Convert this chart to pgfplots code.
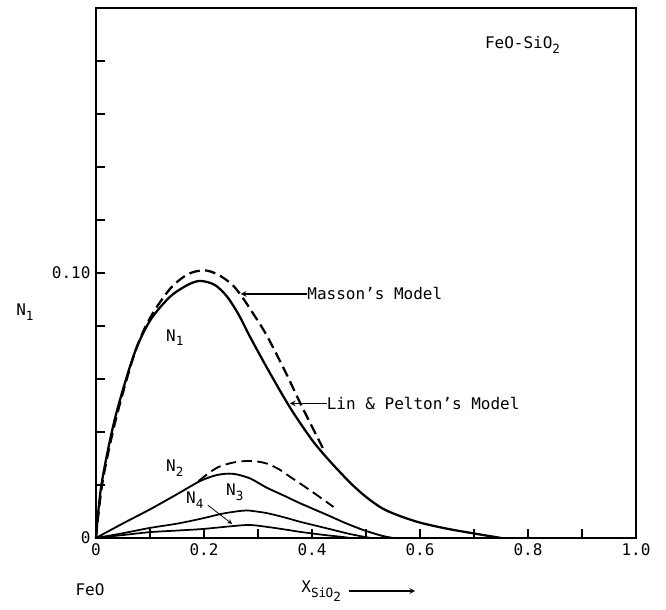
\documentclass[border=0pt]{standalone}
\usepackage{pgfplots}
\pgfplotsset{compat=1.18}
\usepackage{fontspec}
\setmainfont{DejaVu Sans Mono}
\newcommand{\sub}[1]{\raisebox{-0.55ex}{\fontsize{9.5}{11}\selectfont #1}}
\begin{document}
\fontsize{12}{14}\selectfont
\begin{tikzpicture}
\begin{axis}[
  scale only axis, width=405pt, height=397.5pt,
  xmin=0, xmax=1, ymin=0, ymax=0.2,
  axis line style={line width=1.6pt},
  xtick={0,0.1,0.2,0.3,0.4,0.5,0.6,0.7,0.8,0.9,1.0},
  xticklabels={0,,0.2,,0.4,,0.6,,0.8,,1.0},
  ytick={0,0.02,0.04,0.06,0.08,0.10,0.12,0.14,0.16,0.18},
  yticklabels={0,,,,,0.10,,,,},
  tick align=inside, xtick pos=bottom, ytick pos=left,
  major tick length=7pt,
  tick style={line width=1.2pt, black},
  ticklabel style={font=\fontsize{12}{14}\selectfont},
  clip=false,
]
% bounding box of the picture
\path (rel axis cs:-0.1778,-0.1358) rectangle (rel axis cs:1.0556,1.0151);

% Lin & Pelton N1 (solid)
\addplot[black, line width=1.7pt, smooth] coordinates {
(0,0) (0.01,0.020) (0.035,0.045) (0.07,0.069) (0.1,0.082) (0.137,0.091)
(0.17,0.0955) (0.193,0.097) (0.22,0.0955) (0.243,0.091) (0.265,0.084)
(0.285,0.076) (0.32,0.063) (0.36,0.049) (0.40,0.037) (0.433,0.029)
(0.47,0.021) (0.5,0.0155) (0.53,0.0112) (0.56,0.0085) (0.6,0.0058)
(0.65,0.0035) (0.70,0.0017) (0.75,0.0)};
% Masson N1 (dashed)
\addplot[black, line width=1.7pt, smooth, dash pattern=on 8pt off 4pt] coordinates {
(0,0) (0.012,0.021) (0.037,0.045) (0.072,0.070) (0.1,0.083) (0.137,0.094)
(0.17,0.0995) (0.2,0.101) (0.225,0.0995) (0.25,0.096) (0.267,0.092)
(0.29,0.085) (0.316,0.0765) (0.35,0.063) (0.378,0.051) (0.40,0.042) (0.42,0.034)};
% N2 solid
\addplot[black, line width=1.4pt, smooth] coordinates {
(0,0) (0.05,0.0055) (0.1,0.0108) (0.15,0.0165) (0.193,0.0215) (0.225,0.0238)
(0.254,0.0242) (0.285,0.0225) (0.316,0.019) (0.35,0.0158) (0.378,0.0131)
(0.428,0.0087) (0.46,0.0058) (0.495,0.003) (0.53,0.0008) (0.55,0)};
% N2 dashed
\addplot[black, line width=1.4pt, smooth, dash pattern=on 8pt off 4pt] coordinates {
(0.19,0.0215) (0.224,0.0265) (0.26,0.0287) (0.291,0.029) (0.316,0.0281)
(0.34,0.0258) (0.36,0.023) (0.385,0.0196) (0.409,0.0162) (0.44,0.0117)};
% N3
\addplot[black, line width=1.3pt, smooth] coordinates {
(0,0) (0.05,0.0018) (0.1,0.0038) (0.15,0.0054) (0.193,0.0072) (0.235,0.0092)
(0.267,0.0102) (0.28,0.0104) (0.316,0.0094) (0.35,0.0077) (0.378,0.0061)
(0.41,0.0045) (0.44,0.003) (0.47,0.0015) (0.50,0.0003) (0.51,0)};
% N4
\addplot[black, line width=1.3pt, smooth] coordinates {
(0,0) (0.05,0.0011) (0.1,0.0022) (0.15,0.0028) (0.198,0.0034) (0.254,0.0045)
(0.285,0.0049) (0.316,0.0042) (0.35,0.0032) (0.378,0.0023) (0.42,0.0012)
(0.46,0.0003) (0.47,0)};

% curve labels
\node at (axis cs:0.146,0.0756) {N\sub{1}};
\node at (axis cs:0.146,0.0263) {N\sub{2}};
\node at (axis cs:0.257,0.0173) {N\sub{3}};
\node at (axis cs:0.183,0.0143) {N\sub{4}};
\draw[-stealth, line width=0.6pt] (axis cs:0.207,0.0124) -- (axis cs:0.252,0.0053);

\node[anchor=west, inner sep=0pt] at (axis cs:0.391,0.0921) {Masson's Model};
\draw[-stealth, line width=0.9pt] (axis cs:0.391,0.0921) -- (axis cs:0.268,0.0921);
\node[anchor=west, inner sep=0pt] at (axis cs:0.427,0.0508) {Lin \& Pelton's Model};
\draw[-stealth, line width=0.9pt] (axis cs:0.427,0.0508) -- (axis cs:0.359,0.0508);

\node at (axis cs:0.79,0.186) {FeO-SiO\sub{2}};

% axis labels
\node at (rel axis cs:-0.1315,0.4264) {N\sub{1}};
\node at (rel axis cs:-0.011,-0.098) {FeO};
\node[anchor=west, inner sep=0pt] (xl) at (rel axis cs:0.38,-0.100) {X\sub{Si\kern-0.5ptO\sub{2}}};
\draw[-stealth, line width=0.9pt] (rel axis cs:0.468,-0.100) -- (rel axis cs:0.591,-0.100);
\end{axis}
\end{tikzpicture}
\end{document}
